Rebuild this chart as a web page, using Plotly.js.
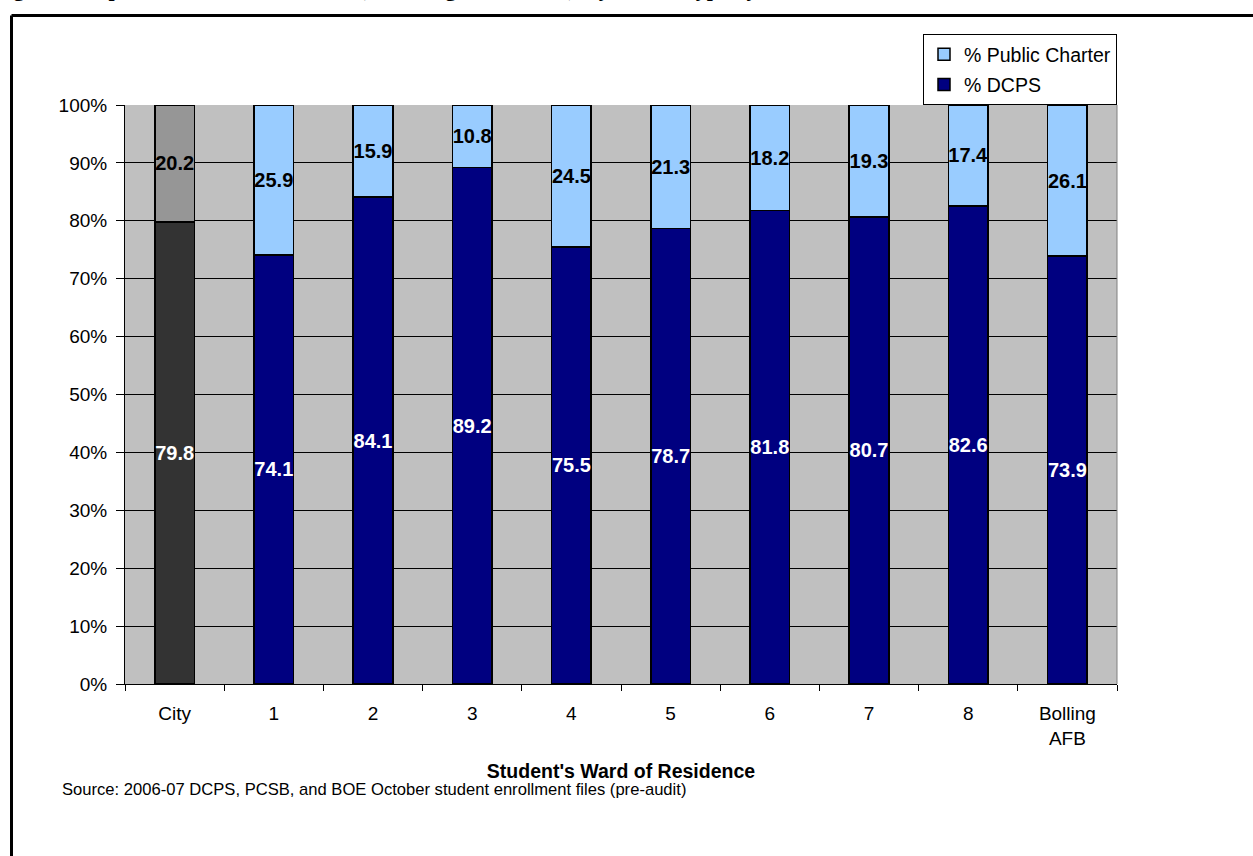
<!DOCTYPE html>
<html>
<head>
<meta charset="utf-8">
<script src="https://cdn.plot.ly/plotly-3.0.1.min.js"></script>
<style>html,body{margin:0;padding:0;background:#fff;}#chart{width:1253px;height:856px;}</style>
</head>
<body>
<div id="chart"></div>
<script>
const categories = ["City", "1", "2", "3", "4", "5", "6", "7", "8", "Bolling<br>AFB"];
const dcpsValues = [79.8, 74.1, 84.1, 89.2, 75.5, 78.7, 81.8, 80.7, 82.6, 73.9];
const charterValues = [20.2, 25.9, 15.9, 10.8, 24.5, 21.3, 18.2, 19.3, 17.4, 26.1];
const yTickValues = [0, 10, 20, 30, 40, 50, 60, 70, 80, 90, 100];
const seriesNames = ["% DCPS", "% Public Charter"];

const dcpsColors = categories.map((c, i) => i === 0 ? "#333333" : "#000080");
const charterColors = categories.map((c, i) => i === 0 ? "#969696" : "#99CCFF");

const lblFont = {family: "Arial, Liberation Sans, sans-serif", size: 20, color: "#000"};

const traces = [
  {
    type: "bar", x: categories, y: dcpsValues, name: seriesNames[0], showlegend: false,
    marker: {color: dcpsColors, line: {color: "#000", width: 1.5}},
    text: dcpsValues.map(v => "<b>" + v.toFixed(1) + "</b>"), textposition: "inside",
    insidetextanchor: "middle", constraintext: "none", textangle: 0,
    textfont: Object.assign({}, lblFont, {color: "#ffffff"}), hoverinfo: "skip"
  },
  {
    type: "bar", x: categories, y: charterValues, name: seriesNames[1], showlegend: false,
    marker: {color: charterColors, line: {color: "#000", width: 1.5}},
    text: charterValues.map(v => "<b>" + v.toFixed(1) + "</b>"), textposition: "inside",
    insidetextanchor: "middle", constraintext: "none", textangle: 0,
    textfont: lblFont, hoverinfo: "skip"
  },
  {type: "bar", x: [categories[0]], y: [null], name: seriesNames[1], legendgroup: "a", showlegend: true,
   marker: {color: "#99CCFF", line: {color: "#000", width: 1.5}}, hoverinfo: "skip"},
  {type: "bar", x: [categories[0]], y: [null], name: seriesNames[0], legendgroup: "b", showlegend: true,
   marker: {color: "#000080", line: {color: "#000", width: 1.5}}, hoverinfo: "skip"}
];

const L = 125, R = 136, T = 105, B = 172;
const pw = 1253 - L - R, ph = 856 - T - B;
const px = x => (x - L) / pw;
const py = y => (856 - B - y) / ph;

const layout = {
  width: 1253, height: 856,
  margin: {l: L, r: R, t: T, b: B, pad: 0},
  paper_bgcolor: "#ffffff", plot_bgcolor: "#C0C0C0",
  barmode: "stack", bargap: 0.6,
  font: {family: "Arial, Liberation Sans, sans-serif", size: 19, color: "#000"},
  showlegend: true,
  legend: {
    x: 1, xanchor: "right", y: 1, yanchor: "bottom",
    bgcolor: "#ffffff", bordercolor: "#000", borderwidth: 1,
    font: {size: 19.5}, traceorder: "grouped", tracegroupgap: 2, itemwidth: 30
  },
  xaxis: {
    type: "category", tickson: "boundaries", ticks: "outside", ticklen: 6, tickcolor: "#000",
    ticklabelstandoff: 12,
    showline: true, linecolor: "#000", linewidth: 1, showgrid: false,
    tickfont: {size: 19},
    title: {text: "<b>Student's Ward of Residence</b>", font: {size: 19.5}, standoff: 16}
  },
  yaxis: {
    range: [0, 100], tickvals: yTickValues, ticktext: yTickValues.map(v => v + "%"),
    ticks: "outside", ticklen: 8, tickcolor: "#000", ticklabelstandoff: 5,
    showline: true, linecolor: "#000", linewidth: 1,
    showgrid: true, gridcolor: "#000", gridwidth: 1, zeroline: false,
    tickfont: {size: 19}
  },
  shapes: [
    {type: "line", xref: "paper", yref: "paper", x0: px(11.5), x1: px(1260), y0: py(15.5), y1: py(15.5), line: {color: "#000", width: 3}},
    {type: "line", xref: "paper", yref: "paper", x0: px(11.5), x1: px(11.5), y0: py(15.5), y1: py(870), line: {color: "#000", width: 3}},
    {type: "line", xref: "paper", yref: "paper", x0: 1, x1: 1, y0: 0, y1: 1, line: {color: "#808080", width: 1}}
  ],
  annotations: [
    {xref: "paper", yref: "paper", x: px(60), y: py(789), xanchor: "left", yanchor: "middle", showarrow: false,
     text: "Source: 2006-07 DCPS, PCSB, and BOE October student enrollment files (pre-audit)", font: {size: 16.6}},
    {xref: "paper", yref: "paper", x: px(-8), y: py(2.9), xanchor: "left", yanchor: "bottom", showarrow: false,
     text: "<b>Figure 14: Special Education Students (Including Non-Public), by School Type by Ward of Residence</b>",
     font: {family: "Liberation Serif, Times New Roman, serif", size: 22}}
  ]
};

Plotly.newPlot("chart", traces, layout, {displayModeBar: false, staticPlot: true});
</script>
</body>
</html>
